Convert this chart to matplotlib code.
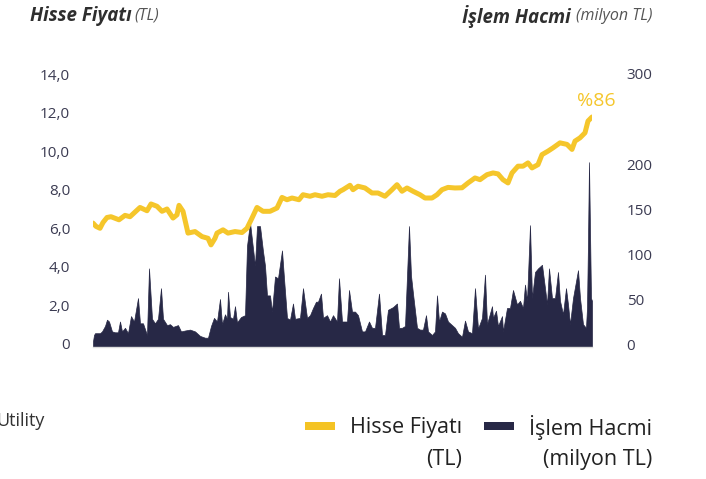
import matplotlib
matplotlib.use("Agg")
import matplotlib.pyplot as plt
from matplotlib.patches import Rectangle

plt.rcParams['font.family'] = ['Open Sans', 'DejaVu Sans']

# hisse fiyati (TL), by trading day
price_day = [0, 1.5, 3.5, 5, 7, 9, 13, 16, 18.5, 21, 23.5, 27, 29, 32, 34.5, 37, 40, 42, 43, 45,
             47.5, 51, 54.5, 57.5, 59, 61, 62, 65, 67.5, 71, 74.5, 77, 79.5, 82, 85, 88.5, 92, 94.5,
             97, 99.5, 103, 105, 108.5, 111, 114.5, 117.5, 121, 123.5, 125, 128.5, 130, 132.5, 136,
             139.5, 142.5, 146, 149.5, 152, 154.5, 157, 160, 163.5, 166, 169.5, 172, 174.5, 177.5,
             181, 184.5, 187.5, 191, 193.5, 197, 200, 202.5, 205, 207.5, 209.5, 212.5, 215, 217.5,
             219.5, 222.5, 224.5, 227.5, 230, 233.5, 237, 239.5, 241, 243.5, 246, 247.5, 249.5]
price = [6.27, 6.1, 6.0, 6.3, 6.56, 6.6, 6.44, 6.67, 6.6, 6.84, 7.08, 6.91, 7.26, 7.14, 6.88, 7.0,
         6.53, 6.7, 7.19, 6.88, 5.75, 5.83, 5.57, 5.48, 5.14, 5.48, 5.75, 5.92, 5.75, 5.83, 5.78, 6.0,
         6.53, 7.08, 6.88, 6.88, 7.05, 7.6, 7.48, 7.57, 7.48, 7.74, 7.66, 7.74, 7.66, 7.74, 7.7, 7.92,
         8.0, 8.23, 8.0, 8.18, 8.09, 7.83, 7.83, 7.66, 8.0, 8.26, 7.92, 8.09, 7.92, 7.74, 7.57, 7.57,
         7.74, 8.0, 8.12, 8.09, 8.1, 8.35, 8.61, 8.52, 8.78, 8.87, 8.82, 8.52, 8.35, 8.87, 9.22, 9.22,
         9.39, 9.13, 9.3, 9.82, 10.0, 10.17, 10.43, 10.35, 10.09, 10.52, 10.69, 10.95, 11.56, 11.77]

# islem hacmi (milyon TL), by trading day
vol_day = [0, 0.5, 1, 3.5, 4.5, 6, 7, 8, 9.5, 11, 12.5, 13.5, 14.5, 16, 17.5, 19, 20.5, 22.5, 23.5,
           25, 27, 28, 29.5, 31, 32.5, 34, 35, 37, 38.5, 40, 42.5, 44, 46, 48.5, 51, 53.5, 56, 57.5,
           59, 60.5, 62, 63.5, 64.5, 66, 67, 67.5, 68.5, 70, 71, 72, 74, 76, 77, 78.5, 80, 81, 82,
           83.5, 85, 86, 87, 88.5, 89.5, 91, 92.5, 94.5, 95.5, 97, 98.5, 100, 101, 103.5, 105, 107,
           108.5, 110, 111.5, 112.5, 114, 115, 117, 118.5, 120, 122, 123, 124.5, 127, 128, 129.5, 131,
           132.5, 134.5, 136, 138, 139.5, 141, 143, 144.5, 146, 147.5, 150, 152, 153, 154.5, 156, 158,
           159, 160, 162, 163.5, 165, 166.5, 167.5, 169.5, 171, 172, 173, 174.5, 176, 177.5, 179.5,
           181, 182.5, 184.5, 186, 187.5, 189.5, 191, 192.5, 194.5, 196, 197, 199.5, 200, 201.5,
           202.5, 204.5, 205, 207, 208.5, 210, 212, 213.5, 215, 216, 217, 218.5, 219.5, 221, 222.5,
           224.5, 226, 227, 228, 229.5, 231, 232.5, 233.5, 235, 236.5, 237.5, 238.5, 240, 242.5,
           243.5, 245, 246.5, 247, 247.5, 248, 249, 249.5]
volume = [3, 10, 12, 12, 14, 20, 27, 25, 14, 13, 13, 25, 14, 18, 12, 31, 25, 51, 23,
          23, 10, 84, 28, 23, 28, 62, 28, 21, 22, 19, 21, 14, 15, 16, 14, 9, 7, 7,
          20, 29, 25, 50, 22, 33, 28, 58, 30, 28, 42, 24, 30, 32, 109, 135, 106, 87, 131,
          131, 103, 87, 54, 54, 36, 75, 73, 104, 73, 29, 27, 45, 28, 29, 62, 29,
          32, 40, 47, 47, 56, 29, 32, 25, 32, 25, 73, 25, 25, 60, 36, 36,
          32, 14, 14, 25, 18, 18, 56, 10, 10, 38, 41, 45, 18, 18, 20, 131,
          76, 56, 18, 16, 16, 32, 14, 10, 14, 54, 25, 36, 34, 25, 21,
          18, 12, 8, 26, 14, 12, 62, 17, 29, 77, 22, 42, 29, 37,
          20, 31, 14, 40, 40, 60, 44, 48, 40, 66, 48, 132, 51, 80, 84,
          88, 62, 44, 84, 51, 51, 80, 48, 33, 62, 44, 22, 51, 82,
          51, 22, 18, 40, 114, 202, 51, 48]

left_ticks = [0, 2, 4, 6, 8, 10, 12, 14]
left_labels = ['0', '2,0', '4,0', '6,0', '8,0', '10,0', '12,0', '14,0']
right_ticks = [0, 50, 100, 150, 200, 300]
right_labels = ['0', '50', '100', '150', '200', '300']
change_label = '%86'

yellow = '#F5C62B'
navy = '#272846'
tick_color = '#3b3b52'

W, H = 706, 479
fig = plt.figure(figsize=(W / 100, H / 100), dpi=100)

ax_v = fig.add_axes([93 / W, (H - 347) / H, (592 - 93) / W, (347 - 74) / H])
ax_p = ax_v.twinx()
ax_v.yaxis.tick_right()
ax_p.yaxis.tick_left()

ax_v.set_xlim(0, price_day[-1])
ax_v.set_ylim(-3.33, 300)
ax_p.set_ylim(-0.156, 14)

bottom = ax_v.get_ylim()[0]
ax_v.fill_between(vol_day, volume, bottom, color=navy, lw=0.5, edgecolor=navy)
ax_p.plot(price_day, price, color=yellow, lw=3.6, solid_capstyle='round', solid_joinstyle='round')

ax_p.annotate(change_label, (price_day[-1], price[-1]), xytext=(4, 16), textcoords='offset pixels',
              ha='center', va='center', color=yellow, fontsize=14, fontweight='medium',
              annotation_clip=False)

for a in (ax_v, ax_p):
    for s in a.spines.values():
        s.set_visible(False)
    a.set_xticks([])
ax_v.spines['bottom'].set_visible(True)
ax_v.spines['bottom'].set_color('#dcdcdc')
ax_v.spines['bottom'].set_linewidth(1)

ax_p.set_yticks(left_ticks)
ax_p.set_yticklabels(left_labels)
ax_p.tick_params(axis='y', length=0, pad=16.5, labelsize=11, labelcolor=tick_color)
ax_v.set_yticks(right_ticks)
ax_v.set_yticklabels(right_labels)
ax_v.tick_params(axis='y', length=0, pad=25, labelsize=11, labelcolor=tick_color)

# axis titles: bold italic name, then the unit right after it
t1 = fig.text(30 / W, 1 - 16 / H, 'Hisse Fiyatı', fontsize=13.5, fontweight='bold', style='italic',
              color='#2e2e2e', va='center')
t2 = fig.text(462 / W, 1 - 16 / H, 'İşlem Hacmi', fontsize=13.5, fontweight='bold', style='italic',
              color='#2e2e2e', va='center')
fig.canvas.draw()
fig.text((t1.get_window_extent().x1 + 3) / W, 1 - 16 / H, '(TL)', fontsize=11.5, style='italic',
         color='#555555', va='center')
fig.text((t2.get_window_extent().x1 + 5) / W, 1 - 16 / H, '(milyon TL)', fontsize=11.5, style='italic',
         color='#555555', va='center')

# clipped leftover text on the left
fig.text(-4 / W, 1 - 421 / H, 'Utility', fontsize=13, color='#333333', va='center')

# legend
fig.patches.append(Rectangle((305 / W, 1 - 430 / H), 30 / W, 8 / H, transform=fig.transFigure,
                             color='#F4C324', lw=0))
fig.patches.append(Rectangle((484 / W, 1 - 430 / H), 30 / W, 8 / H, transform=fig.transFigure,
                             color=navy, lw=0))
fig.text(462 / W, 1 - 427 / H, 'Hisse Fiyatı', fontsize=15.5, color='#222222', ha='right', va='center')
fig.text(462 / W, 1 - 460 / H, '(TL)', fontsize=15.5, color='#222222', ha='right', va='center')
fig.text(652 / W, 1 - 427 / H, 'İşlem Hacmi', fontsize=15.5, color='#222222', ha='right', va='center')
fig.text(652 / W, 1 - 460 / H, '(milyon TL)', fontsize=15.5, color='#222222', ha='right', va='center')

fig.savefig('out.png', dpi=100)
